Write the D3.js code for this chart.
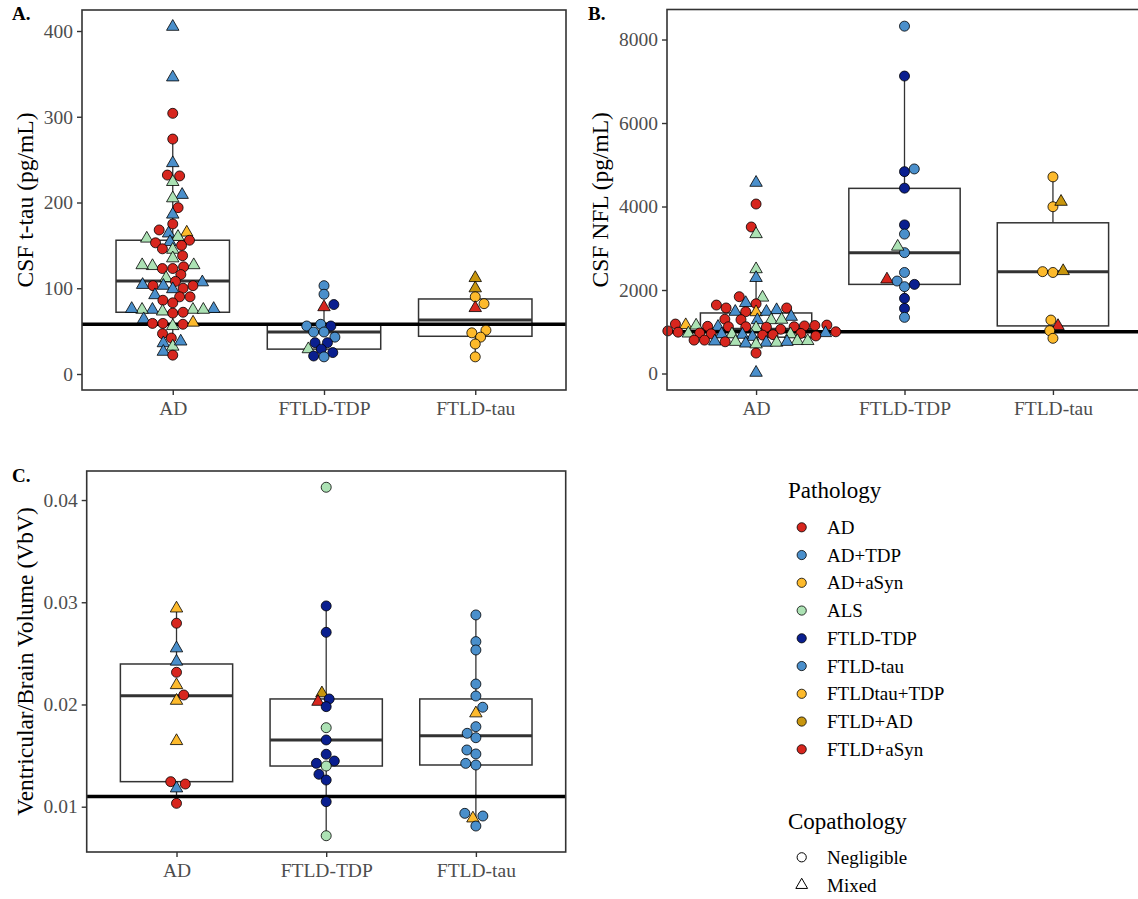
<!DOCTYPE html>
<html>
<head>
<meta charset="utf-8">
<script src="https://cdn.jsdelivr.net/npm/d3@7"></script>
<style>
  body { margin: 0; background: #fff; }
  text { font-family: "Liberation Serif", "Times New Roman", serif; }
</style>
</head>
<body>
<svg id="chart" width="1138" height="899"></svg>
<script>
// categories
var groups = ["AD", "FTLD-TDP", "FTLD-tau"];
var pathologies = ["AD", "AD+TDP", "AD+aSyn", "ALS", "FTLD-TDP", "FTLD-tau", "FTLDtau+TDP", "FTLD+AD", "FTLD+aSyn"];
var pathColors = ["#D7261E", "#4A8FCB", "#FDBA2C", "#ACE2B4", "#0A1F8F", "#4A8FCB", "#FDBA2C", "#C8960E", "#D7261E"];
var copathologies = ["Negligible", "Mixed"];

// CSF t-tau (pg/mL): [value, pathology, copathology]
var tauAD = [
  [405,"AD+TDP","Mixed"],[346,"AD+TDP","Mixed"],[304,"AD","Negligible"],[274,"AD","Negligible"],
  [246,"AD+TDP","Mixed"],[232,"AD","Negligible"],[231,"AD","Negligible"],[224,"ALS","Mixed"],
  [209,"AD+TDP","Mixed"],[205,"ALS","Mixed"],[194,"AD","Negligible"],[186,"AD+TDP","Mixed"],
  [175,"AD","Negligible"],[168,"AD","Negligible"],[164,"AD+TDP","Mixed"],[165,"AD+aSyn","Mixed"],
  [158,"ALS","Mixed"],[160,"ALS","Mixed"],[156,"AD","Negligible"],[153,"AD","Negligible"],
  [154,"AD+TDP","Mixed"],[150,"AD","Negligible"],[146,"AD","Negligible"],[145,"ALS","Mixed"],
  [138,"AD","Negligible"],[135,"ALS","Mixed"],[127,"ALS","Mixed"],[125,"AD","Negligible"],
  [126,"ALS","Mixed"],[123,"AD","Negligible"],[123,"AD","Negligible"],[127,"ALS","Mixed"],
  [116,"AD","Negligible"],[112,"ALS","Mixed"],[108,"AD","Negligible"],[107,"AD+TDP","Mixed"],
  [104,"AD+TDP","Mixed"],[103,"AD+TDP","Mixed"],[103,"AD","Negligible"],[103,"AD","Negligible"],
  [99,"AD+TDP","Mixed"],[100,"AD","Negligible"],[92,"AD+TDP","Mixed"],[90,"AD","Negligible"],
  [90,"AD","Negligible"],[86,"AD","Negligible"],[83,"AD","Negligible"],[76,"AD+TDP","Mixed"],
  [75,"ALS","Mixed"],[75,"AD+TDP","Mixed"],[75,"ALS","Mixed"],[73,"ALS","Mixed"],
  [71,"AD","Negligible"],[75,"ALS","Mixed"],[72,"AD","Negligible"],[76,"AD+TDP","Mixed"],
  [64,"AD+TDP","Mixed"],[59,"AD","Negligible"],[60,"AD+aSyn","Mixed"],[56,"ALS","Mixed"],
  [58,"AD","Negligible"],[59,"AD","Negligible"],[47,"AD","Negligible"],[42,"AD","Negligible"],
  [36,"AD+TDP","Mixed"],[32,"ALS","Mixed"],[38,"AD+TDP","Mixed"],[26,"AD+TDP","Mixed"],
  [22,"AD","Negligible"]
];
var tauTDP = [
  [103,"FTLD-tau","Negligible"],[93,"FTLD-tau","Negligible"],[81,"FTLD-TDP","Negligible"],
  [78,"FTLD+aSyn","Mixed"],[56,"FTLD-TDP","Negligible"],[56,"FTLD-tau","Negligible"],
  [58,"FTLD-tau","Negligible"],[49,"FTLD-tau","Negligible"],[49,"FTLD-tau","Negligible"],
  [43,"FTLD-tau","Negligible"],[36.5,"FTLD-TDP","Negligible"],[36.5,"FTLD-TDP","Negligible"],
  [29,"FTLD-TDP","Negligible"],[29,"ALS","Mixed"],[25,"FTLD-TDP","Negligible"],
  [21,"FTLD-TDP","Negligible"],[20,"FTLD-tau","Negligible"]
];
var tauTau = [
  [112,"FTLD+AD","Mixed"],[100,"FTLD+AD","Mixed"],[90,"FTLDtau+TDP","Negligible"],
  [82,"FTLDtau+TDP","Negligible"],[77,"FTLD+aSyn","Mixed"],[51,"FTLDtau+TDP","Negligible"],
  [48,"FTLDtau+TDP","Negligible"],[43,"FTLDtau+TDP","Negligible"],[35,"FTLDtau+TDP","Negligible"],
  [20,"FTLDtau+TDP","Negligible"]
];

// CSF NFL (pg/mL)
var nflAD = [
  [4570,"AD+TDP","Mixed"],[4060,"AD","Negligible"],[3510,"AD","Negligible"],[3340,"ALS","Mixed"],
  [2500,"ALS","Mixed"],[2290,"AD+TDP","Mixed"],[1840,"AD","Negligible"],[1820,"ALS","Mixed"],
  [1690,"AD+TDP","Mixed"],[1640,"AD","Negligible"],[1670,"AD","Negligible"],[1570,"AD","Negligible"],
  [1570,"AD","Negligible"],[1520,"AD+TDP","Mixed"],[1480,"AD","Negligible"],[1470,"AD+aSyn","Mixed"],
  [1480,"AD+TDP","Mixed"],[1480,"AD+TDP","Mixed"],[1360,"AD+TDP","Mixed"],[1300,"AD","Negligible"],
  [1290,"AD","Negligible"],[1280,"AD+TDP","Mixed"],[1280,"ALS","Mixed"],[1290,"ALS","Mixed"],
  [1185,"AD","Negligible"],[1160,"AD+aSyn","Mixed"],[1120,"AD","Negligible"],[1120,"AD","Negligible"],
  [1120,"AD+TDP","Mixed"],[1090,"ALS","Mixed"],[1120,"AD","Negligible"],[1140,"AD","Negligible"],
  [1150,"AD","Negligible"],[1130,"AD","Negligible"],[1110,"AD","Negligible"],[1150,"ALS","Mixed"],
  [1160,"AD","Negligible"],[1060,"AD","Negligible"],
  [1020,"AD","Negligible"],[970,"AD","Negligible"],[960,"AD","Negligible"],[970,"AD+TDP","Mixed"],
  [940,"ALS","Mixed"],[940,"ALS","Mixed"],[880,"AD+TDP","Mixed"],[1000,"AD","Negligible"],
  [900,"AD","Negligible"],[950,"AD","Negligible"],[920,"AD","Negligible"],[930,"AD+TDP","Mixed"],
  [940,"AD+TDP","Mixed"],[990,"AD","Negligible"],[960,"ALS","Mixed"],[930,"AD","Negligible"],
  [780,"ALS","Mixed"],[770,"AD+TDP","Mixed"],[800,"AD","Negligible"],[760,"ALS","Mixed"],
  [740,"AD+TDP","Mixed"],[720,"AD+TDP","Mixed"],[760,"AD","Negligible"],[700,"ALS","Mixed"],
  [740,"ALS","Mixed"],[760,"AD+TDP","Mixed"],[800,"AD","Negligible"],[780,"ALS","Mixed"],
  [490,"AD","Negligible"],[20,"AD+TDP","Mixed"]
];
var nflTDP = [
  [8320,"FTLD-tau","Negligible"],[7125,"FTLD-TDP","Negligible"],[4835,"FTLD-TDP","Negligible"],
  [4900,"FTLD-tau","Negligible"],[4440,"FTLD-TDP","Negligible"],[3560,"FTLD-TDP","Negligible"],
  [3340,"FTLD-tau","Negligible"],[2895,"FTLD-tau","Negligible"],[3040,"ALS","Mixed"],
  [2420,"FTLD-tau","Negligible"],[2255,"FTLD+aSyn","Mixed"],[2215,"FTLD-tau","Negligible"],
  [2080,"FTLD-tau","Negligible"],[2135,"FTLD-TDP","Negligible"],[1800,"FTLD-TDP","Negligible"],
  [1560,"FTLD-TDP","Negligible"],[1345,"FTLD-tau","Negligible"]
];
var nflTau = [
  [4710,"FTLDtau+TDP","Negligible"],[3995,"FTLDtau+TDP","Negligible"],[4115,"FTLD+AD","Mixed"],
  [2440,"FTLDtau+TDP","Negligible"],[2420,"FTLDtau+TDP","Negligible"],[2455,"FTLD+AD","Mixed"],
  [1280,"FTLDtau+TDP","Negligible"],[1140,"FTLD+aSyn","Mixed"],[1025,"FTLDtau+TDP","Negligible"],
  [843,"FTLDtau+TDP","Negligible"]
];

// Ventricular/Brain Volume (VbV)
var vbvAD = [
  [0.0294,"AD+aSyn","Mixed"],[0.02795,"AD","Negligible"],[0.0255,"AD+TDP","Mixed"],
  [0.0242,"AD+TDP","Mixed"],[0.02315,"AD","Negligible"],[0.0219,"AD+aSyn","Mixed"],
  [0.02093,"AD","Negligible"],[0.02037,"AD+aSyn","Mixed"],[0.01643,"AD+aSyn","Mixed"],
  [0.01245,"AD","Negligible"],[0.01222,"AD","Negligible"],[0.0118,"AD+TDP","Mixed"],
  [0.01033,"AD","Negligible"]
];
var vbvTDP = [
  [0.04125,"ALS","Negligible"],[0.02964,"FTLD-TDP","Negligible"],[0.02706,"FTLD-TDP","Negligible"],
  [0.0211,"FTLD+AD","Mixed"],[0.02027,"FTLD+aSyn","Mixed"],[0.02054,"FTLD-TDP","Negligible"],
  [0.01979,"FTLD-TDP","Negligible"],[0.01773,"ALS","Negligible"],[0.01653,"FTLD-TDP","Negligible"],
  [0.01513,"FTLD-TDP","Negligible"],[0.01447,"FTLD-TDP","Negligible"],[0.01424,"FTLD-TDP","Negligible"],
  [0.01398,"ALS","Negligible"],[0.01317,"FTLD-TDP","Negligible"],[0.01261,"FTLD-TDP","Negligible"],
  [0.01049,"FTLD-TDP","Negligible"],[0.00716,"ALS","Negligible"]
];
var vbvTau = [
  [0.02876,"FTLD-tau","Negligible"],[0.02615,"FTLD-tau","Negligible"],[0.02533,"FTLD-tau","Negligible"],
  [0.022,"FTLD-tau","Negligible"],[0.02083,"FTLD-tau","Negligible"],[0.01973,"FTLD-tau","Negligible"],
  [0.01914,"FTLDtau+TDP","Mixed"],[0.01783,"FTLD-tau","Negligible"],[0.01718,"FTLD-tau","Negligible"],
  [0.01675,"FTLD-tau","Negligible"],[0.01555,"FTLD-tau","Negligible"],[0.01516,"FTLD-tau","Negligible"],
  [0.01424,"FTLD-tau","Negligible"],[0.01408,"FTLD-tau","Negligible"],[0.00909,"FTLD-tau","Negligible"],
  [0.00935,"FTLD-tau","Negligible"],[0.00886,"FTLDtau+TDP","Mixed"],[0.00811,"FTLD-tau","Negligible"]
];

// box stats per group: [lower whisker, q1, median, q3, upper whisker]
var tauBox = [[22, 72, 108.5, 156, 274], [20, 29, 49, 58, 80], [20, 44, 63, 87.5, 112]];
var nflBox = [[490, 870, 1060, 1450, 2290], [1345, 2135, 2895, 4435, 7125], [843, 1140, 2440, 3610, 4710]];
var vbvBox = [[0.0103, 0.01245, 0.02086, 0.02396, 0.0294], [0.00716, 0.01398, 0.01653, 0.02054, 0.02964], [0.00811, 0.01408, 0.01695, 0.02054, 0.02876]];

// reference lines
var tauRef = 58, nflRef = 1000, vbvRef = 0.011;

// y ticks
var tauTicks = [0, 100, 200, 300, 400];
var nflTicks = [0, 2000, 4000, 6000, 8000];
var vbvTicks = [0.01, 0.02, 0.03, 0.04];

var svg = d3.select("#chart");
var colorOf = d3.scaleOrdinal().domain(pathologies).range(pathColors);
var circR = 5, triSize = 67;
var tickColor = "#4D4D4D", lineColor = "#333333";

var panels = [
  { x0: 82, x1: 566, y0: 10, y1: 390, yDomain: [-18.66, 424.5], ticks: tauTicks, fmt: d3.format("d"),
    data: [tauAD, tauTDP, tauTau], box: tauBox, ref: tauRef, title: "CSF t-tau (pg/mL)", titleX: 33,
    label: "A.", labelX: 12, labelY: 20 },
  { x0: 667, x1: 1142, y0: 9.5, y1: 390, yDomain: [-395, 8719], ticks: nflTicks, fmt: d3.format("d"),
    data: [nflAD, nflTDP, nflTau], box: nflBox, ref: nflRef, title: "CSF NFL (pg/mL)", titleX: 608,
    label: "B.", labelX: 588, labelY: 20 },
  { x0: 86.7, x1: 565.7, y0: 471, y1: 852, yDomain: [0.005569, 0.04284], ticks: vbvTicks, fmt: d3.format(".2f"),
    data: [vbvAD, vbvTDP, vbvTau], box: vbvBox, ref: vbvRef, title: "Ventricular/Brain Volume (VbV)", titleX: 33,
    label: "C.", labelX: 12, labelY: 482 }
];

// swarm layout (ascending priority), elliptical spacing: dx across, dy along the value axis
function swarm(pts, dx, dy) {
  var order = pts.slice().sort(function(a, b) { return b.py - a.py; });
  var placed = [];
  function need(q, p) {
    var t = (q.py - p.py) / dy;
    return dx * Math.sqrt(Math.max(0, 1 - t * t));
  }
  order.forEach(function(p, i) {
    var near = placed.filter(function(q) { return Math.abs(q.py - p.py) < dy; });
    var cands = [0];
    near.forEach(function(q) {
      var n = need(q, p);
      cands.push(q.off + n, q.off - n);
    });
    var sign = (i % 2 === 0) ? 1 : -1;
    cands.sort(function(a, b) {
      var da = Math.abs(a) - Math.abs(b);
      if (Math.abs(da) > 1e-6) return da;
      return sign * (b - a);
    });
    for (var k = 0; k < cands.length; k++) {
      var c = cands[k];
      var ok = near.every(function(q) { return Math.abs(c - q.off) >= need(q, p) - 1e-6; });
      if (ok) { p.off = c; break; }
    }
    placed.push(p);
  });
}

panels.forEach(function(P) {
  var x = d3.scalePoint().domain(groups).range([P.x0, P.x1]).padding(0.6);
  var y = d3.scaleLinear().domain(P.yDomain).range([P.y1, P.y0]);
  var bw = x.step() * 0.75;
  var g = svg.append("g");

  // boxplots
  groups.forEach(function(grp, i) {
    var b = P.box[i], cx = x(grp);
    var bg = g.append("g").attr("stroke", lineColor).attr("fill", "none");
    bg.append("line").attr("x1", cx).attr("x2", cx).attr("y1", y(b[3])).attr("y2", y(b[4])).attr("stroke-width", 1.3);
    bg.append("line").attr("x1", cx).attr("x2", cx).attr("y1", y(b[1])).attr("y2", y(b[0])).attr("stroke-width", 1.3);
    bg.append("rect").attr("x", cx - bw / 2).attr("width", bw)
      .attr("y", y(b[3])).attr("height", y(b[1]) - y(b[3]))
      .attr("fill", "#fff").attr("stroke-width", 1.5);
    bg.append("line").attr("x1", cx - bw / 2).attr("x2", cx + bw / 2)
      .attr("y1", y(b[2])).attr("y2", y(b[2])).attr("stroke-width", 3);
  });

  // reference line
  g.append("line").attr("x1", P.x0).attr("x2", P.x1).attr("y1", y(P.ref)).attr("y2", y(P.ref))
    .attr("stroke", "#000").attr("stroke-width", 3.5);

  // points
  groups.forEach(function(grp, i) {
    var pts = P.data[i].map(function(r) { return { v: r[0], path: r[1], cop: r[2], py: y(r[0]), off: 0 }; });
    swarm(pts, 10.4, 8);
    g.append("g").selectAll("path").data(pts).enter().append("path")
      .attr("transform", function(p) { return "translate(" + (x(grp) + p.off) + "," + p.py + ")"; })
      .attr("d", function(p) {
        return p.cop === "Mixed" ? d3.symbol(d3.symbolTriangle, triSize)() : d3.symbol(d3.symbolCircle, Math.PI * circR * circR)();
      })
      .attr("fill", function(p) { return colorOf(p.path); })
      .attr("stroke", "#000").attr("stroke-width", 0.8);
  });

  // panel border
  g.append("rect").attr("x", P.x0).attr("y", P.y0).attr("width", P.x1 - P.x0).attr("height", P.y1 - P.y0)
    .attr("fill", "none").attr("stroke", lineColor).attr("stroke-width", 1.6);

  // axes
  var ya = g.append("g").attr("transform", "translate(" + P.x0 + ",0)")
    .call(d3.axisLeft(y).tickValues(P.ticks).tickFormat(P.fmt).tickSize(5).tickPadding(4));
  var xa = g.append("g").attr("transform", "translate(0," + P.y1 + ")")
    .call(d3.axisBottom(x).tickSize(5).tickPadding(6));
  [ya, xa].forEach(function(a) {
    a.select(".domain").remove();
    a.selectAll(".tick line").attr("stroke", lineColor).attr("stroke-width", 1.4);
    a.selectAll(".tick text").attr("fill", tickColor).style("font-size", "19.5px")
      .style("font-family", "'Liberation Serif', serif");
  });

  // axis title
  g.append("text").attr("transform", "translate(" + P.titleX + "," + ((P.y0 + P.y1) / 2) + ") rotate(-90)")
    .attr("text-anchor", "middle").style("font-size", "23.5px").attr("fill", "#000").text(P.title);

  // panel label
  g.append("text").attr("x", P.labelX).attr("y", P.labelY)
    .style("font-size", "19px").style("font-weight", "bold").text(P.label);
});

// legend
var lg = svg.append("g");
lg.append("text").attr("x", 788).attr("y", 498).style("font-size", "23px").text("Pathology");
pathologies.forEach(function(p, i) {
  var cy = 527.3 + i * 27.75;
  lg.append("circle").attr("cx", 801.7).attr("cy", cy).attr("r", 4.6)
    .attr("fill", colorOf(p)).attr("stroke", "#000").attr("stroke-width", 0.8);
  lg.append("text").attr("x", 827).attr("y", cy + 6.5).style("font-size", "19px").text(p);
});
lg.append("text").attr("x", 788).attr("y", 829).style("font-size", "23px").text("Copathology");
copathologies.forEach(function(c, i) {
  var cy = 857.3 + i * 27.75;
  lg.append("path").attr("transform", "translate(801.7," + cy + ")")
    .attr("d", c === "Mixed" ? d3.symbol(d3.symbolTriangle, 60)() : d3.symbol(d3.symbolCircle, Math.PI * 4.6 * 4.6)())
    .attr("fill", "none").attr("stroke", "#000").attr("stroke-width", 1);
  lg.append("text").attr("x", 827).attr("y", cy + 6.5).style("font-size", "19px").text(c);
});
</script>
</body>
</html>
